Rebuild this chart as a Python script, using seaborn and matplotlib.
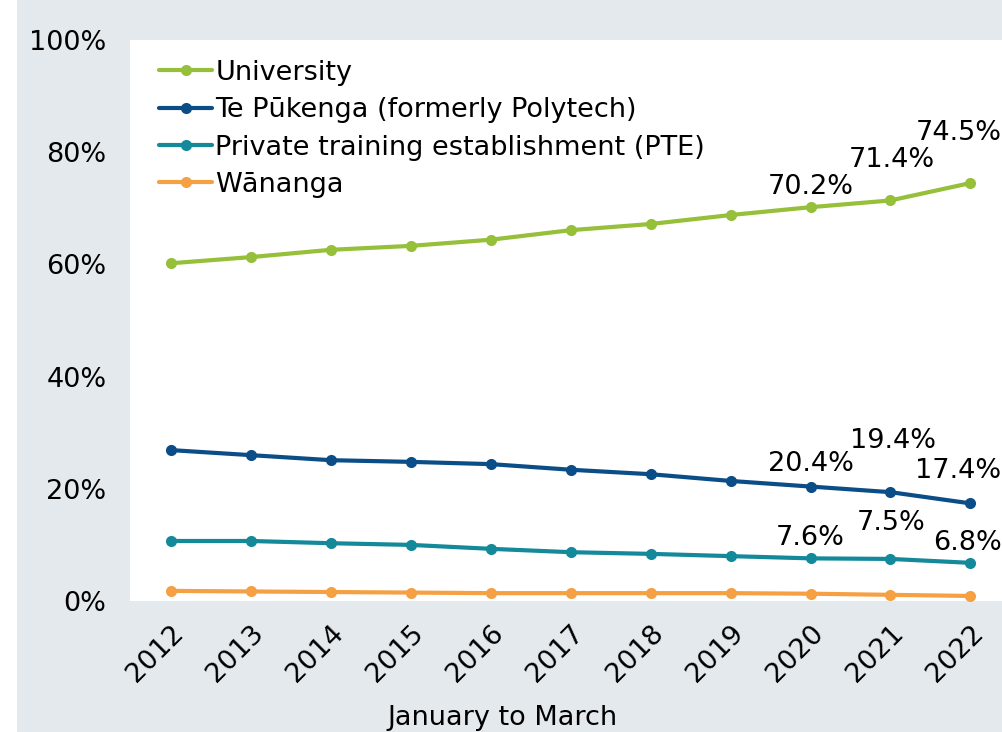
import numpy as np
import pandas as pd
import matplotlib
matplotlib.use("Agg")
import matplotlib.pyplot as plt
import seaborn as sns
from matplotlib.patches import Rectangle
from matplotlib.transforms import ScaledTranslation

years = [2012, 2013, 2014, 2015, 2016, 2017, 2018, 2019, 2020, 2021, 2022]
university = [60.2, 61.3, 62.6, 63.3, 64.4, 66.1, 67.2, 68.8, 70.2, 71.4, 74.5]
te_pukenga = [26.9, 26.0, 25.1, 24.8, 24.4, 23.4, 22.6, 21.4, 20.4, 19.4, 17.4]
pte = [10.7, 10.7, 10.3, 10.0, 9.3, 8.7, 8.4, 8.0, 7.6, 7.5, 6.8]
wananga = [1.8, 1.7, 1.6, 1.5, 1.4, 1.4, 1.4, 1.4, 1.3, 1.1, 0.9]

series_names = ["University", "Te Pūkenga (formerly Polytech)",
                "Private training establishment (PTE)", "Wānanga"]
series_values = [university, te_pukenga, pte, wananga]
colors = ["#96bf3a", "#0b4d87", "#13899a", "#f5a043"]
y_ticks = [0, 20, 40, 60, 80, 100]
x_title = "January to March"

sns.set_theme(style="white")
plt.rcParams["font.family"] = ["DejaVu Sans"]
plt.rcParams["text.color"] = "black"
plt.rcParams["xtick.color"] = "black"
plt.rcParams["ytick.color"] = "black"

FS = 19.5
bg = "#e4e9ee"
fig = plt.figure(figsize=(10.02, 7.32), dpi=100, facecolor=bg)
fig.patches.append(Rectangle((0, 0), 17 / 1002, 1, transform=fig.transFigure,
                             facecolor="white", edgecolor="none", zorder=-1))
ax = fig.add_axes([130 / 1002, 1 - 601 / 732, 1 - 130 / 1002 + 0.01, (601 - 40) / 732])
ax.set_facecolor("white")

df = pd.DataFrame({
    "year": np.tile(years, len(series_names)),
    "value": np.concatenate(series_values),
    "series": np.repeat(series_names, len(years)),
})

sns.lineplot(data=df, x="year", y="value", hue="series", hue_order=series_names,
             palette=colors, marker="o", markersize=8, markeredgewidth=0,
             linewidth=3, ax=ax, legend=True)

ax.set_ylim(0, 100)
ax.set_xlim(2011.49, 2022.52)
ax.set_yticks(y_ticks)
ax.set_yticklabels([f"{t}%" for t in y_ticks], fontsize=FS)
ax.set_xticks(years)
ax.set_xticklabels([str(y) for y in years], fontsize=FS, rotation=45,
                   ha="right", rotation_mode="anchor")
shift = ScaledTranslation(-6 / 100, 0, fig.dpi_scale_trans)
for lab in ax.get_xticklabels():
    lab.set_transform(lab.get_transform() + shift)
ax.tick_params(axis="y", length=0, pad=17)
ax.tick_params(axis="x", length=0, pad=14)
ax.set_xlabel("")
ax.set_ylabel("")
for s in ax.spines.values():
    s.set_visible(False)

fig.text(502 / 1002, 1 - 718 / 732, x_title, fontsize=FS, ha="center", va="center")

leg = ax.legend(loc="upper left", bbox_to_anchor=(0.021, 0.984), frameon=False,
                fontsize=FS, handlelength=1.95, handletextpad=0.12,
                labelspacing=0.42, borderaxespad=0)

# data labels for last three years (offsets in pixels)
label_offsets = {
    0: [(0, 20), (1, 40), (-12, 50)],
    1: [(0, 23), (3, 51), (-12, 32)],
    2: [(0, 20), (1, 36), (-3, 20)],
}
for si, offs in label_offsets.items():
    vals = series_values[si]
    for k, (dx, dy) in enumerate(offs):
        idx = len(years) - 3 + k
        ax.annotate(f"{vals[idx]:.1f}%", (years[idx], vals[idx]),
                    xytext=(dx, dy), textcoords="offset pixels",
                    ha="center", va="center", fontsize=FS, annotation_clip=False)

fig.savefig("out.png", dpi=100, facecolor=bg)
